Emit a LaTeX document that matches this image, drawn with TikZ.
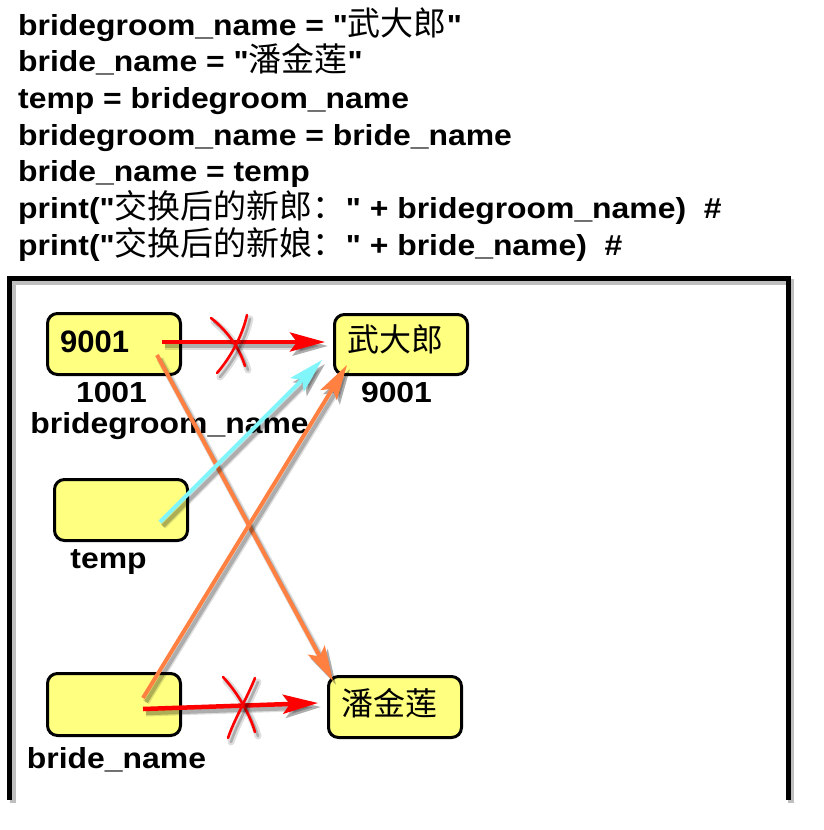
\documentclass[tikz,border=0pt]{standalone}
\usepackage{fontspec}
\setmainfont{Liberation Sans}[FakeStretch=1.1, Ligatures=TeXOff]
\newfontfamily\plainsans{Liberation Sans}
\newfontfamily\cjk{Noto Sans CJK SC}
\usetikzlibrary{arrows.meta}
\definecolor{boxyellow}{RGB}{255,255,128}
\definecolor{arrorange}{RGB}{255,128,64}
\definecolor{arrcyan}{RGB}{128,245,250}
\definecolor{arrred}{RGB}{255,0,0}
\newcommand\cj[1]{{\cjk\mdseries\fontsize{33}{33}\selectfont #1}}
\newcommand\shadowed[2]{%
  \draw[#1, draw=black, opacity=0.13, line width=7pt, transform canvas={shift={(3pt,-4pt)}}] #2;
  \draw[#1, draw=black, opacity=0.22, transform canvas={shift={(3pt,-4pt)}}] #2;
  \draw[#1] #2;}
\begin{document}
\begin{tikzpicture}[x=1pt,y=-1pt,
  code/.style={font=\fontsize{29}{29}\selectfont\bfseries, inner sep=0pt, anchor=base west},
  lbl/.style={font=\fontsize{29}{29}\selectfont\bfseries, inner sep=0pt, anchor=base},
  membox/.style={draw=black, line width=3pt, fill=boxyellow, rounded corners=10pt,
     minimum width=133pt, minimum height=61pt, inner sep=0pt},
  frameline/.style={draw=black, line width=5pt, line join=miter},
  tipstyle/.style={-{Stealth[length=35pt, width=19pt, inset=7pt]}},
  redarrow/.style={draw=arrred, line width=4.5pt, tipstyle},
  orangearrow/.style={draw=arrorange, line width=4pt, tipstyle},
  cyanarrow/.style={draw=arrcyan, line width=4pt, tipstyle},
  crossmark/.style={draw=arrred, line width=2.6pt, line cap=round}]
\useasboundingbox (0,0) rectangle (823,830);
\fill[white] (0,0) rectangle (823,830);

% code lines
\node[code] (l1) at (18,35) {bridegroom\_name = "\cj{武大郎}"};
\node[code] (l2) at (18,71.7) {bride\_name = "\cj{潘金莲}"};
\node[code] (l3) at (18,108.3) {temp = bridegroom\_name};
\node[code] (l4) at (18,145) {bridegroom\_name = bride\_name};
\node[code] (l5) at (18,181.7) {bride\_name = temp};
\node[code] (l6) at (18,218.3) {print("\cj{交换后的新郎：}" + bridegroom\_name)\ \ \#};
\node[code] (l7) at (18,255) {print("\cj{交换后的新娘：}" + bride\_name)\ \ \#};

% frame
\draw[frameline, draw=black, opacity=0.25, line width=6pt, transform canvas={shift={(3pt,-3pt)}}]
  (9.5,800) -- (9.5,278.5) -- (788,278.5) -- (788,800);
\draw[frameline] (9.5,800) -- (9.5,278.5) -- (788,278.5) -- (788,800);

% boxes
\node[membox] (boxA) at (114,344) {};
\node[membox, minimum height=60pt] (boxB) at (401,344.5) {};
\node[membox] (boxT) at (121,510) {};
\node[membox, minimum height=62pt] (boxC) at (114,704.5) {};
\node[membox] (boxD) at (395,707) {};

% box contents
\node[font=\plainsans\bfseries\fontsize{31}{31}\selectfont, inner sep=0pt, anchor=base west] (vA) at (60,352) {9001};
\node[font=\cjk\fontsize{32}{32}\selectfont, inner sep=0pt, anchor=base west] (vB) at (347,351) {武大郎};
\node[font=\cjk\fontsize{32}{32}\selectfont, inner sep=0pt, anchor=base west] (vD) at (341,715) {潘金莲};

% labels
\node[lbl] (addrA) at (111.5,402) {1001};
\node[lbl] (nameA) at (169.5,433) {bridegroom\_name};
\node[lbl] (addrB) at (396.5,402) {9001};
\node[lbl] (nameT) at (108.5,568) {temp};
\node[lbl] (nameC) at (116.5,768) {bride\_name};

% connector end points
\coordinate (r1s) at (162,342);
\coordinate (r1e) at (325,342);
\coordinate (r2s) at (143,709);
\coordinate (r2e) at (318,703);
\coordinate (o1s) at (157,355);
\coordinate (o1e) at (333,681);
\coordinate (o2s) at (143,698);
\coordinate (o2e) at (347,365);
\coordinate (c1s) at (160,522);
\coordinate (c1e) at (322,360);

% arrows
\shadowed{orangearrow}{(o1s) -- (o1e)}
\shadowed{orangearrow}{(o2s) -- (o2e)}
\shadowed{cyanarrow}{(c1s) -- (c1e)}
\shadowed{redarrow}{(r1s) -- (r1e)}
\shadowed{redarrow}{(r2s) -- (r2e)}

% cross marks
\shadowed{crossmark}{(211,318) .. controls (229,332) and (240,350) .. (245,366)}
\shadowed{crossmark}{(247,315) .. controls (242,337) and (230,358) .. (217,373)}
\shadowed{crossmark}{(223,677) .. controls (238,693) and (250,715) .. (255,732)}
\shadowed{crossmark}{(255,678) .. controls (246,700) and (234,720) .. (228,738)}
\end{tikzpicture}
\end{document}
